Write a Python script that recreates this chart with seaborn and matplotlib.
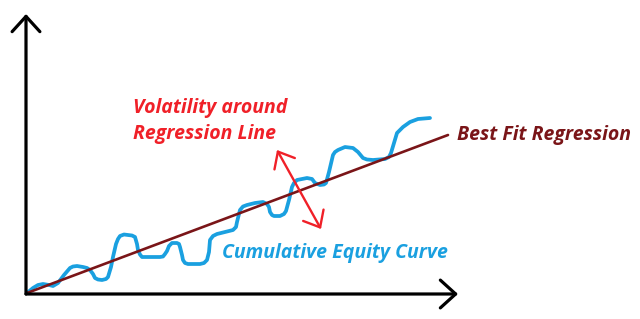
import matplotlib
matplotlib.use("Agg")
import matplotlib.pyplot as plt
import seaborn as sns
import pandas as pd

# Cumulative equity curve (time, equity)
time = [0.0, 0.6, 1.1, 1.6, 2.2, 2.6, 3.1, 3.7, 4.3, 4.6, 5.0, 5.6, 6.0, 6.3, 6.6, 6.8, 7.1,
        7.5, 7.9, 8.1, 8.4, 8.6, 8.9, 9.1, 9.3, 9.7, 10.1, 10.5, 10.8, 11.0, 11.1, 11.3,
        11.5, 12.3, 13.3, 13.6, 13.8, 14.0, 14.2, 14.5, 15.0, 15.2, 15.3, 15.5, 15.6,
        15.8, 16.1, 17.3, 17.7, 18.0, 18.2, 18.3, 18.6, 19.0, 19.8, 20.6, 20.9, 21.0,
        21.3, 21.6, 22.0, 22.8, 23.6, 24.0, 24.2, 24.3, 24.5, 24.7, 25.3, 25.7, 25.9,
        26.2, 26.5, 26.7, 27.0, 28.0, 28.5, 28.8, 29.3, 29.7, 29.9, 30.2, 30.6, 30.8,
        31.1, 31.8, 32.6, 33.1, 33.6, 34.0, 34.6, 35.8, 36.2, 36.4, 36.7, 37.0, 37.6,
        38.3, 39.1, 40.3]
equity = [0.0, 0.5, 0.8, 0.9, 0.8, 0.7, 1.0, 1.8, 2.5, 2.65, 2.7, 2.6, 2.5, 2.3, 1.9,
          1.5, 1.35, 1.3, 1.4, 1.6, 2.6, 3.6, 4.9, 5.4, 5.7, 5.85, 5.8, 5.75, 5.6, 4.9,
          4.3, 3.85, 3.6, 3.6, 3.6, 3.65, 3.9, 4.2, 4.7, 5.0, 5.0, 4.9, 4.6, 3.8, 3.3,
          3.0, 2.9, 2.9, 3.0, 3.3, 4.1, 5.3, 5.7, 5.9, 6.1, 6.3, 6.6, 7.1, 8.3, 8.65,
          8.8, 9.0, 9.1, 8.9, 8.6, 8.1, 7.8, 7.7, 7.7, 7.9, 8.2, 9.3, 10.6, 11.0, 11.3,
          11.5, 11.4, 11.0, 10.8, 10.85, 11.0, 12.1, 13.8, 14.1, 14.3, 14.6, 14.5, 14.1,
          13.5, 13.35, 13.3, 13.4, 13.6, 14.0, 15.0, 16.0, 16.6, 17.1, 17.4, 17.5]

# Best fit regression line endpoints
reg_time = [0.0, 42.1]
reg_equity = [0.0, 15.8]

# Labels
label_volatility = ["Volatility around", "Regression Line"]
label_regression = "Best Fit Regression"
label_equity = "Cumulative Equity Curve"

BLUE = "#1AA0E0"
DARKRED = "#7A1518"
RED = "#F02028"

sns.set_theme(style="white")
plt.rcParams["font.family"] = ["Open Sans", "DejaVu Sans"]

fig = plt.figure(figsize=(6.40, 3.19), dpi=100)
ax = fig.add_axes([0, 0, 1, 1])
ax.set_xlim(-2.7, 61.3)
ax.set_ylim(-2.6, 29.3)
ax.set_axis_off()

curve = pd.DataFrame({"time": time, "equity": equity})
sns.lineplot(data=curve, x="time", y="equity", sort=False, estimator=None,
             color=BLUE, lw=2.7, ax=ax, solid_joinstyle="round", solid_capstyle="round")
reg = pd.DataFrame({"time": reg_time, "equity": reg_equity})
sns.lineplot(data=reg, x="time", y="equity", sort=False, estimator=None,
             color=DARKRED, lw=1.9, ax=ax)

# Axes with arrow heads
arrow_kw = dict(arrowstyle="->,head_length=0.55,head_width=0.5", color="black",
                lw=2.3, mutation_scale=20, shrinkA=0, shrinkB=0, capstyle="round")
ax.annotate("", xy=(-0.1, 27.9), xytext=(-0.1, -0.1), arrowprops=arrow_kw)
ax.annotate("", xy=(43.1, -0.1), xytext=(-0.1, -0.1), arrowprops=arrow_kw)

# Volatility double arrow
ax.annotate("", xy=(25.0, 14.3), xytext=(29.4, 6.4),
            arrowprops=dict(arrowstyle="<->,head_length=0.5,head_width=0.42",
                            color=RED, lw=1.7, mutation_scale=20, shrinkA=0, shrinkB=0))

txt = dict(fontsize=14, fontweight="bold", fontstyle="italic", ha="left", va="baseline")
ax.text(10.6, 18.0, label_volatility[0], color=RED, **txt)
ax.text(10.6, 15.4, label_volatility[1], color=RED, **txt)
ax.text(43.0, 15.3, label_regression, color=DARKRED, **txt)
ax.text(19.5, 3.5, label_equity, color=BLUE, **txt)

fig.savefig("out.png", dpi=100)
